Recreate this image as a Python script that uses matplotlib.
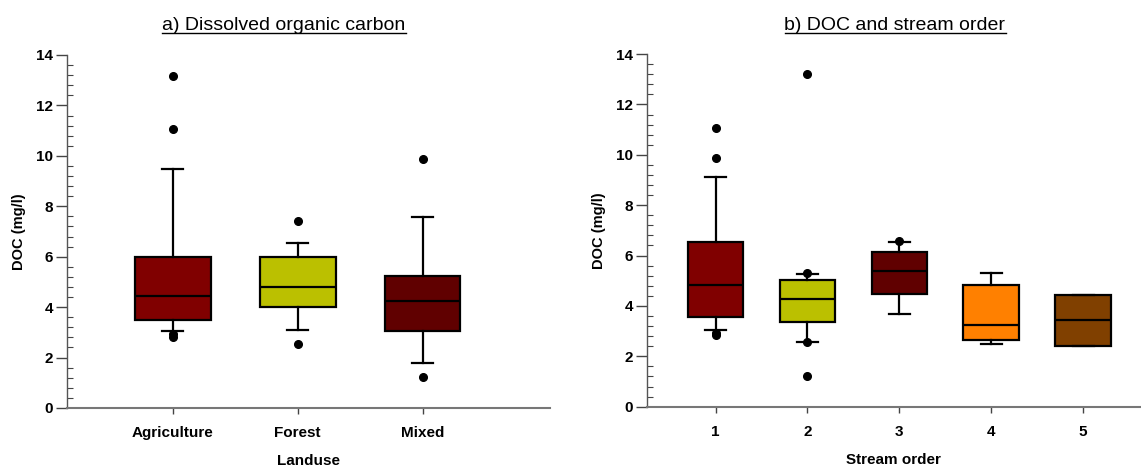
import matplotlib
matplotlib.use("Agg")
import matplotlib.pyplot as plt
from matplotlib.lines import Line2D
from matplotlib.ticker import MultipleLocator

plt.rcParams['font.family'] = ['Liberation Sans', 'DejaVu Sans']

# Panel a: DOC by land use
landuse = ["Agriculture", "Forest", "Mixed"]
lu_q1 = [3.50, 4.02, 3.05]
lu_med = [4.46, 4.80, 4.26]
lu_q3 = [6.00, 6.00, 5.25]
lu_whislo = [3.04, 3.11, 1.80]
lu_whishi = [9.48, 6.55, 7.58]
lu_fliers = [[13.17, 11.06, 2.94, 2.83], [7.41, 2.53], [9.87, 1.23]]
lu_colors = ["#800000", "#BBC000", "#600000"]

# Panel b: DOC by stream order
orders = ["1", "2", "3", "4", "5"]
so_q1 = [3.55, 3.35, 4.46, 2.65, 2.41]
so_med = [4.84, 4.28, 5.37, 3.26, 3.43]
so_q3 = [6.54, 5.03, 6.14, 4.83, 4.45]
so_whislo = [3.04, 2.57, 3.68, 2.49, 2.41]
so_whishi = [9.12, 5.28, 6.54, 5.31, 4.45]
so_fliers = [[11.08, 9.89, 2.94, 2.83], [13.19, 5.29, 2.55, 1.21], [6.58], [], []]
so_colors = ["#800000", "#BBC000", "#600000", "#FF8000", "#804000"]


def make_stats(labels, q1, med, q3, lo, hi, fl):
    return [dict(label=l, q1=a, med=m, q3=b, whislo=w0, whishi=w1, fliers=f)
            for l, a, m, b, w0, w1, f in zip(labels, q1, med, q3, lo, hi, fl)]


fig = plt.figure(figsize=(11.41, 4.66), dpi=100)
ax1 = fig.add_axes([0.0587, 0.1245, 0.4233, 0.7575])
ax2 = fig.add_axes([0.5668, 0.1273, 0.4332, 0.7567])


def draw_panel(ax, stats, colors, capw, xlim, xlabel):
    pos = list(range(1, len(stats) + 1))
    bp = ax.bxp(stats, positions=pos, widths=0.605, patch_artist=True,
                showfliers=True, capwidths=capw,
                boxprops=dict(edgecolor="black", linewidth=1.6),
                medianprops=dict(color="black", linewidth=1.6),
                whiskerprops=dict(color="black", linewidth=1.6),
                capprops=dict(color="black", linewidth=1.6),
                flierprops=dict(marker="o", markerfacecolor="black",
                                markeredgecolor="black", markersize=5.5,
                                linestyle="none"))
    for patch, c in zip(bp["boxes"], colors):
        patch.set_facecolor(c)
    ax.set_xlim(*xlim)
    ax.set_ylim(0, 14)
    ax.yaxis.set_major_locator(MultipleLocator(2))
    ax.yaxis.set_minor_locator(MultipleLocator(0.4))
    ax.tick_params(axis="y", which="major", direction="out", length=8,
                   width=1, color="#444444", labelsize=11, pad=2)
    ax.tick_params(axis="y", which="minor", direction="in", length=4,
                   width=0.8, color="#444444")
    ax.tick_params(axis="x", which="major", direction="out", length=4,
                   width=1, color="#444444", labelsize=11, pad=9)
    for s in ("top", "right"):
        ax.spines[s].set_visible(False)
    ax.spines["left"].set_color("#555555")
    ax.spines["left"].set_linewidth(1.0)
    ax.spines["bottom"].set_color("#777777")
    ax.spines["bottom"].set_linewidth(1.5)
    for lab in ax.get_xticklabels() + ax.get_yticklabels():
        lab.set_fontweight("bold")
    ax.set_ylabel("DOC (mg/l)", fontsize=10.5, fontweight="bold", labelpad=7)
    ax.set_xlabel(xlabel, fontsize=11, fontweight="bold", labelpad=10)


draw_panel(ax1, make_stats(landuse, lu_q1, lu_med, lu_q3, lu_whislo, lu_whishi, lu_fliers),
           lu_colors, 0.17, (0.152, 4.02), "Landuse")
draw_panel(ax2, make_stats(orders, so_q1, so_med, so_q3, so_whislo, so_whishi, so_fliers),
           so_colors, 0.23, (0.25, 5.63), "Stream order")

# Underlined panel titles
titles = [("a) Dissolved organic carbon", 284 / 1141),
          ("b) DOC and stream order", 895 / 1141)]
title_texts = []
for txt, xc in titles:
    t = fig.text(xc, 1 - 26 / 466, txt, ha="center", va="center", fontsize=14)
    title_texts.append(t)

fig.canvas.draw()
renderer = fig.canvas.get_renderer()
inv = fig.transFigure.inverted()
for t in title_texts:
    bb = t.get_window_extent(renderer=renderer)
    (x0, y0), (x1, _) = inv.transform([[bb.x0, bb.y0 + 2], [bb.x1, bb.y0]])
    fig.add_artist(Line2D([x0, x1], [y0, y0], transform=fig.transFigure,
                          color="black", linewidth=1.0))

fig.savefig("out.png", dpi=100)
